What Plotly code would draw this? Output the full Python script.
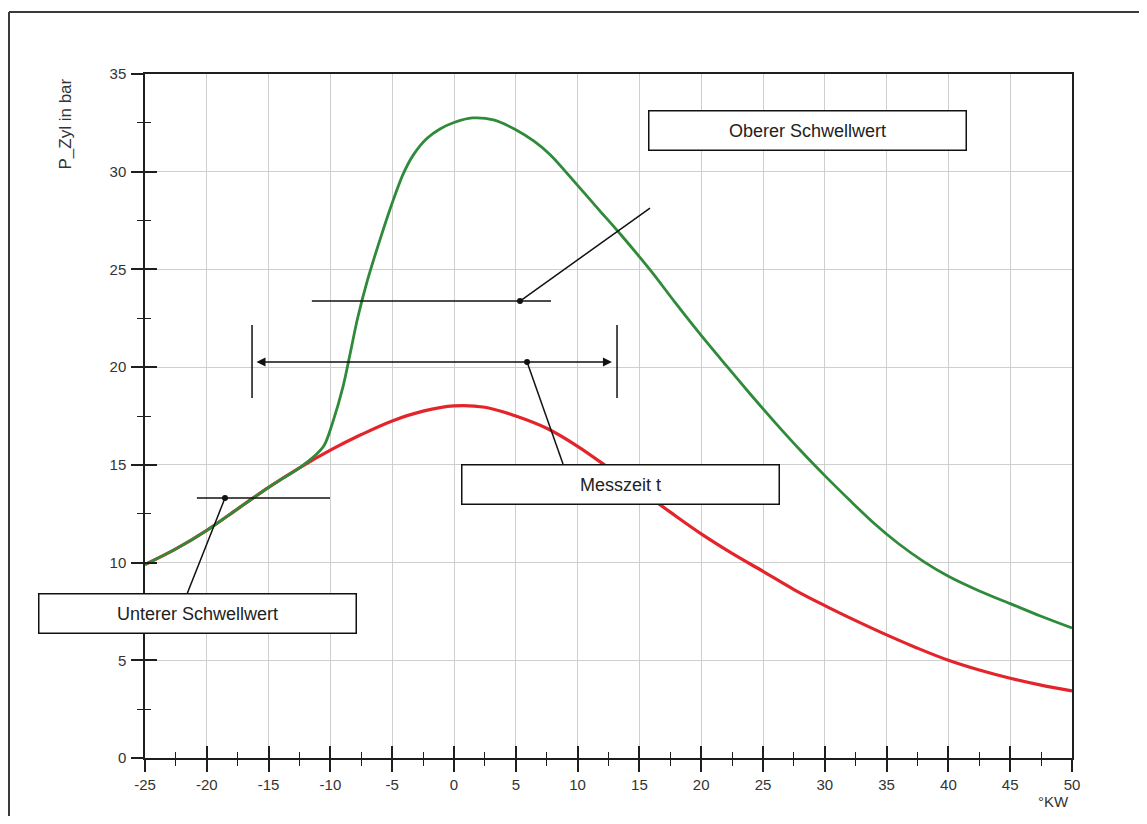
import plotly.graph_objects as go

# ---------------- data ----------------
red_x = [-25, -22.5, -20, -17.5, -15, -12.5, -10, -7.5, -5, -2.5, 0, 2.5, 5, 7.5,
         10, 12.5, 15, 17.5, 20, 22.5, 25, 27.5, 30, 32.5, 35, 37.5, 40, 42.5, 45, 47.5, 50]
red_y = [9.9, 10.7, 11.65, 12.75, 13.85, 14.85, 15.75, 16.55, 17.25, 17.75, 18.02, 17.95,
         17.5, 16.87, 15.95, 14.85, 13.72, 12.58, 11.47, 10.47, 9.55, 8.62, 7.8, 7.03, 6.3,
         5.62, 5.0, 4.5, 4.08, 3.73, 3.43]

green_x = [-25, -22.5, -20, -17.5, -15, -12.5, -11.2, -10.5, -9.8, -9.0, -8.4, -7.8, -7.0,
           -6.0, -5.0, -4.1, -3.3, -2.2, -1.1, 0, 1.5, 3.2, 5, 6.5, 7.8, 10, 11.8, 13.4,
           15.9, 17.9, 19.9, 22, 24, 26, 28, 30, 32, 34, 36, 38, 40, 42.5, 45, 47.5, 50]
green_y = [9.9, 10.7, 11.65, 12.75, 13.85, 14.85, 15.5, 16.0, 17.2, 18.95, 20.7, 22.5,
           24.45, 26.5, 28.4, 29.9, 30.85, 31.7, 32.2, 32.52, 32.75, 32.65, 32.15, 31.55,
           30.86, 29.3, 28.0, 26.85, 24.95, 23.3, 21.7, 20.1, 18.6, 17.15, 15.76, 14.45,
           13.2, 12.0, 10.95, 10.05, 9.3, 8.55, 7.9, 7.25, 6.65]

x_ticks = [-25, -20, -15, -10, -5, 0, 5, 10, 15, 20, 25, 30, 35, 40, 45, 50]
x_tick_labels = ['-25', '-20', '-15', '-10', '-5', '0', '5', '10', '15', '20', '25',
                 '30', '35', '40', '45', '50']
y_ticks = [0, 5, 10, 15, 20, 25, 30, 35]
y_tick_labels = ['0', '5', '10', '15', '20', '25', '30', '35']

label_upper = 'Oberer Schwellwert'
label_lower = 'Unterer Schwellwert'
label_time = 'Messzeit t'
y_title = 'P_Zyl in bar'
x_title = '°KW'

# ---------------- figure ----------------
FONT = 'Liberation Sans, Arial, sans-serif'
INK = '#1e1e1e'
GRID = '#cfcfcf'

fig = go.Figure()
fig.add_trace(go.Scatter(x=red_x, y=red_y, mode='lines',
                         line=dict(color='#e3252b', width=3.2, shape='spline', smoothing=1.0),
                         hoverinfo='skip', showlegend=False))
fig.add_trace(go.Scatter(x=green_x, y=green_y, mode='lines',
                         line=dict(color='#2f8a3a', width=2.8, shape='spline', smoothing=0.9),
                         hoverinfo='skip', showlegend=False))
# dummy traces to activate the tick-overlay axes
fig.add_trace(go.Scatter(x=[None], y=[None], xaxis='x2', yaxis='y', showlegend=False, hoverinfo='skip'))
fig.add_trace(go.Scatter(x=[None], y=[None], xaxis='x', yaxis='y2', showlegend=False, hoverinfo='skip'))

tickfont = dict(family=FONT, size=15, color='#333333')

# page body has an 8px margin: the figure is sized so that the plot area lands at
# x 145..1072 and y 74..758 of the window
fig.update_layout(
    width=1131, height=808,
    margin=dict(l=137, r=67, t=66, b=58),
    paper_bgcolor='white', plot_bgcolor='white',
    showlegend=False,
    xaxis=dict(range=[-25, 50], tickvals=x_ticks, ticktext=x_tick_labels,
               ticks='outside', ticklen=12, tickwidth=1.5, tickcolor=INK,
               showgrid=True, gridcolor=GRID, gridwidth=1, zeroline=False,
               showline=True, mirror=True, linecolor=INK, linewidth=1.5,
               tickfont=tickfont,
               minor=dict(dtick=2.5, tick0=0, ticks='outside', ticklen=6, tickwidth=1.2,
                          tickcolor=INK, showgrid=False)),
    xaxis2=dict(range=[-25, 50], overlaying='x', anchor='y', side='bottom',
                tickvals=x_ticks, ticks='inside', ticklen=12, tickwidth=1.5, tickcolor=INK,
                showticklabels=False, showgrid=False, zeroline=False, showline=False,
                minor=dict(dtick=2.5, tick0=0, ticks='inside', ticklen=6, tickwidth=1.2,
                           tickcolor=INK, showgrid=False)),
    yaxis=dict(range=[0, 35], tickvals=y_ticks, ticktext=y_tick_labels,
               ticks='outside', ticklen=12, tickwidth=1.5, tickcolor=INK,
               showgrid=True, gridcolor=GRID, gridwidth=1, zeroline=False,
               showline=True, mirror=True, linecolor=INK, linewidth=1.5,
               tickfont=tickfont, ticklabelstandoff=2,
               minor=dict(dtick=2.5, tick0=0, ticks='outside', ticklen=6, tickwidth=1.2,
                          tickcolor=INK, showgrid=False)),
    yaxis2=dict(range=[0, 35], overlaying='y', anchor='x', side='left',
                tickvals=y_ticks, ticks='inside', ticklen=12, tickwidth=1.5, tickcolor=INK,
                showticklabels=False, showgrid=False, zeroline=False, showline=False,
                minor=dict(dtick=2.5, tick0=0, ticks='inside', ticklen=6, tickwidth=1.2,
                           tickcolor=INK, showgrid=False)),
)

shapes = []
line_style = dict(color='#111111', width=1.5)
# threshold / leader lines (data coordinates)
for (x0, y0, x1, y1) in [
    (-11.5, 23.38, 7.85, 23.38),     # upper threshold
    (5.34, 23.38, 15.86, 28.14),     # leader to upper label
    (-20.8, 13.30, -10.03, 13.30),   # lower threshold
    (-18.53, 13.30, -21.6, 8.39),    # leader to lower label
    (-16.34, 18.42, -16.34, 22.16),  # left bar of measuring time
    (13.19, 18.42, 13.19, 22.16),    # right bar of measuring time
    (5.91, 20.26, 8.82, 15.04),      # leader to time label
]:
    shapes.append(dict(type='line', xref='x', yref='y', x0=x0, y0=y0, x1=x1, y1=y1,
                       line=line_style, layer='above'))
for (cx, cy) in [(5.34, 23.38), (-18.53, 13.30), (5.91, 20.26)]:
    shapes.append(dict(type='circle', xref='x', yref='y', xsizemode='pixel', ysizemode='pixel',
                       xanchor=cx, yanchor=cy, x0=-3, x1=3, y0=-3, y1=3,
                       fillcolor='#111111', line=dict(color='#111111', width=0), layer='above'))
# outer frame (left and top edges visible)
px = lambda v: (v - 145) / 927.0
py = lambda v: (758 - v) / 684.0
shapes.append(dict(type='line', xref='paper', yref='paper', x0=px(9), x1=px(1160),
                   y0=py(12), y1=py(12), line=dict(color='#3a3a3a', width=2)))
shapes.append(dict(type='line', xref='paper', yref='paper', x0=px(9), x1=px(9),
                   y0=py(12), y1=py(830), line=dict(color='#3a3a3a', width=2)))
fig.update_layout(shapes=shapes)

boxfont = dict(family=FONT, size=18, color='#222222')
ann = []
for (txt, cx, cy) in [(label_upper, 28.60, 32.13), (label_time, 13.51, 14.02),
                      (label_lower, -20.79, 7.37)]:
    ann.append(dict(text=txt, x=cx, y=cy, xref='x', yref='y', showarrow=False,
                    width=316, height=38, align='center', valign='middle',
                    bgcolor='white', bordercolor='#111111', borderwidth=1.5, borderpad=0,
                    font=boxfont))
# double arrow of the measuring time
ann.append(dict(text='', x=12.78, y=20.26, ax=-16.1, ay=20.26, xref='x', yref='y',
                axref='x', ayref='y', showarrow=True, arrowhead=2, arrowside='end+start',
                arrowsize=1.2, arrowwidth=1.5, arrowcolor='#111111', standoff=0, startstandoff=0))
# axis titles
ann.append(dict(text=y_title, xref='paper', yref='paper', x=px(65), y=py(124.5),
                xanchor='center', yanchor='middle', textangle=-90, showarrow=False,
                font=dict(family=FONT, size=17, color='#333333')))
ann.append(dict(text=x_title, xref='paper', yref='paper', x=px(1071), y=py(801),
                xanchor='right', yanchor='middle', showarrow=False,
                font=dict(family=FONT, size=15, color='#333333')))
fig.update_layout(annotations=ann)

fig.write_html('out.html')
